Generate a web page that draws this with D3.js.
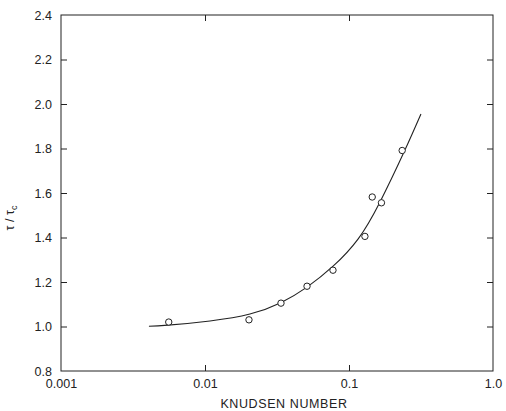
<!DOCTYPE html>
<html><head><meta charset="utf-8">
<script src="https://cdn.jsdelivr.net/npm/d3@7"></script>
<style>body{margin:0;background:#fff;} text{font-family:"Liberation Sans",Arial,sans-serif;fill:#222;}</style>
</head><body><svg id="c" width="506" height="411"></svg>
<script>
// measured points (Knudsen number, tau/tau_c)
const pointKn = [0.0056, 0.0202, 0.0337, 0.0511, 0.0774, 0.129, 0.145, 0.168, 0.234];
const pointRatio = [1.020, 1.030, 1.105, 1.181, 1.253, 1.405, 1.582, 1.556, 1.791];
// fitted curve
const curveKn = [0.00408, 0.00553, 0.01083, 0.0205, 0.0336, 0.0511, 0.0775, 0.1155, 0.1642, 0.241, 0.316];
const curveRatio = [1.001, 1.006, 1.025, 1.056, 1.107, 1.177, 1.271, 1.393, 1.560, 1.784, 1.955];
const xTicks = [0.001, 0.01, 0.1, 1.0];
const xTickLabels = ["0.001", "0.01", "0.1", "1.0"];
const yTicks = [0.8, 1.0, 1.2, 1.4, 1.6, 1.8, 2.0, 2.2, 2.4];

const svg = d3.select("#c");
const L = 61, R = 493, T = 15, B = 371;
const x = d3.scaleLog().domain([0.001, 1]).range([L, R]);
const y = d3.scaleLinear().domain([0.8, 2.4]).range([B, T]);
const ink = "#222";

// frame
svg.append("rect").attr("x", L).attr("y", T).attr("width", R - L).attr("height", B - T)
  .attr("fill", "none").attr("stroke", ink).attr("stroke-width", 1);

// y axes (inward ticks)
const gl = svg.append("g").attr("transform", `translate(${L},0)`)
  .call(d3.axisLeft(y).tickValues(yTicks).tickFormat(d3.format(".1f")).tickSizeInner(-6).tickSizeOuter(0).tickPadding(9));
const gr = svg.append("g").attr("transform", `translate(${R},0)`)
  .call(d3.axisRight(y).tickValues(yTicks.slice(1, -1)).tickFormat("").tickSizeInner(-6).tickSizeOuter(0));
// x axes
const gb = svg.append("g").attr("transform", `translate(0,${B})`)
  .call(d3.axisBottom(x).tickValues(xTicks).tickFormat((d, i) => xTickLabels[i]).tickSizeInner(-6).tickSizeOuter(0).tickPadding(5));
const gt = svg.append("g").attr("transform", `translate(0,${T})`)
  .call(d3.axisTop(x).tickValues(xTicks.slice(1, -1)).tickFormat("").tickSizeInner(-6).tickSizeOuter(0));
[gl, gr, gb, gt].forEach(g => {
  g.select(".domain").remove();
  g.selectAll("line").attr("stroke", ink);
  g.selectAll("text").attr("font-size", 12.5).attr("fill", ink).style("font-family", "'Liberation Sans',Arial,sans-serif");
});
gb.selectAll(".tick").filter(d => d === 0.001 || d === 1).select("line").remove();
gl.selectAll(".tick").filter(d => d === 0.8 || d === 2.4).select("line").remove();
gb.selectAll("text").attr("dy", "0.95em");

// curve
const line = d3.line().x(d => x(d[0])).y(d => y(d[1])).curve(d3.curveNatural);
svg.append("path").datum(curveKn.map((k, i) => [k, curveRatio[i]]))
  .attr("d", line).attr("fill", "none").attr("stroke", ink).attr("stroke-width", 1.1);

// points
svg.selectAll("circle.p").data(pointKn.map((k, i) => [k, pointRatio[i]])).enter()
  .append("circle").attr("class", "p").attr("cx", d => x(d[0])).attr("cy", d => y(d[1]))
  .attr("r", 3.2).attr("fill", "#fff").attr("stroke", ink).attr("stroke-width", 1);

// axis titles
svg.append("text").attr("x", 284).attr("y", 408).attr("text-anchor", "middle")
  .attr("font-size", 12.5).attr("letter-spacing", 0.6).text("KNUDSEN NUMBER");
const yt = svg.append("text").attr("transform", "translate(14,218) rotate(-90)")
  .attr("text-anchor", "middle").attr("font-size", 12.5);
yt.append("tspan").text("τ / τ");
yt.append("tspan").attr("font-size", 9).attr("dy", 3).text("c");
</script></body></html>
